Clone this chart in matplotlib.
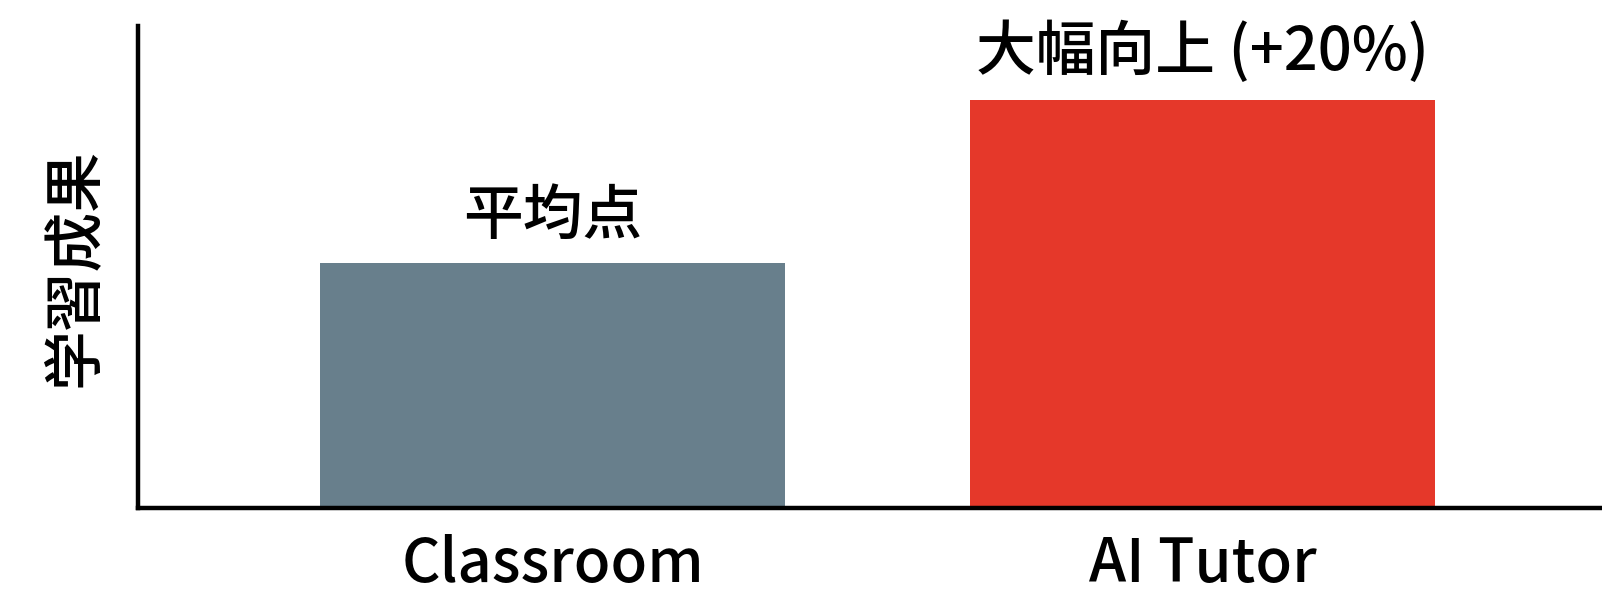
import matplotlib
matplotlib.use('Agg')
import matplotlib.pyplot as plt

plt.rcParams['font.family'] = ['Noto Sans CJK JP', 'DejaVu Sans']

# データ
categories = ['Classroom', 'AI Tutor']
scores = [60, 100]
bar_labels = ['平均点', '大幅向上 (+20%)']
bar_colors = ['#687f8c', '#e5382a']

fig = plt.figure(figsize=(16.02, 5.97), dpi=100)
ax = fig.add_axes([0.0861, 0.149, 0.9139, 0.807])

x = range(len(categories))
bars = ax.bar(x, scores, width=0.715, color=bar_colors)

for b, lab in zip(bars, bar_labels):
    ax.annotate(lab, (b.get_x() + b.get_width() / 2, b.get_height()),
                xytext=(0, 12), textcoords='offset points',
                ha='center', va='bottom', fontsize=43, fontweight='medium')

ax.set_xlim(-0.638, 1.614)
ax.set_ylim(0, 118)
ax.set_xticks(list(x))
ax.set_xticklabels(categories, fontsize=43, fontweight='medium')
ax.set_yticks([])
ax.tick_params(axis='x', length=0, pad=19)
ax.set_ylabel('学習成果', fontsize=43, fontweight='medium', labelpad=24)

for s in ['top', 'right']:
    ax.spines[s].set_visible(False)
for s in ['left', 'bottom']:
    ax.spines[s].set_linewidth(3.2)
    ax.spines[s].set_color('black')

fig.savefig('out.png', dpi=100)
